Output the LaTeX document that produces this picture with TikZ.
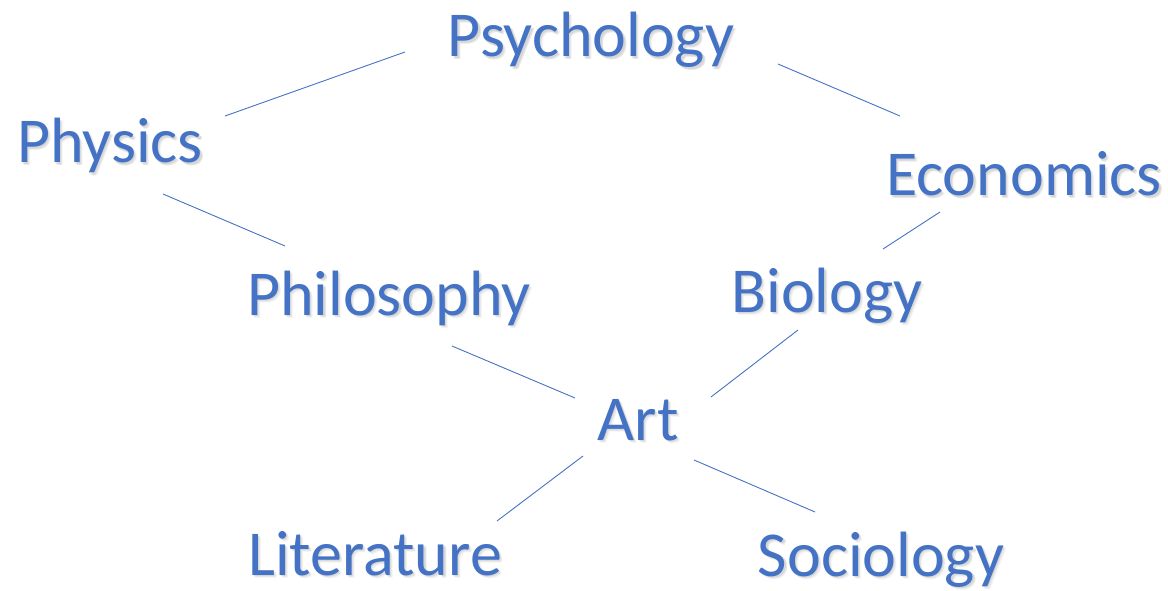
\documentclass[tikz,border=0pt]{standalone}
\usepackage{fontspec}
\setmainfont{Carlito}
\definecolor{topicblue}{HTML}{4472C4}
\begin{document}
\begin{tikzpicture}[x=1pt,y=-1pt,
  topic/.style={anchor=base,inner sep=0pt,text=topicblue,font=\fontsize{64}{70}\selectfont},
  link/.style={draw=topicblue,line width=0.9pt}]
\useasboundingbox (0,0) rectangle (1168,591);
% soft shadows under the labels
\foreach \t/\x/\y in {Psychology/591/57,Physics/110/163,Economics/1024/196,Philosophy/389/315,Biology/827/312,Art/638/440,Literature/375/575,Sociology/881/576}
  \foreach \d/\o in {1.2/0.07,2.2/0.06,3.0/0.04}
    \node[topic,text=black,opacity=\o] at (\x+\d,\y+\d) {\t};
\node[topic] (psy)  at (591,57)  {Psychology};
\node[topic] (phys) at (110,163) {Physics};
\node[topic] (eco)  at (1024,196) {Economics};
\node[topic] (phil) at (389,315) {Philosophy};
\node[topic] (bio)  at (827,312) {Biology};
\node[topic] (art)  at (638,440) {Art};
\node[topic] (lit)  at (375,575) {Literature};
\node[topic] (soc)  at (881,576) {Sociology};
\draw[link] ([shift={(115,-47)}]phys.base) -- ([shift={(-186,-5)}]psy.base);
\draw[link] ([shift={(187,7)}]psy.base) -- ([shift={(-124,-80)}]eco.base);
\draw[link] ([shift={(53,31)}]phys.base) -- ([shift={(-104,-69)}]phil.base);
\draw[link] ([shift={(-84,16)}]eco.base) -- ([shift={(56,-63)}]bio.base);
\draw[link] ([shift={(63,31)}]phil.base) -- ([shift={(-63,-42)}]art.base);
\draw[link] ([shift={(-29,18)}]bio.base) -- ([shift={(73,-43)}]art.base);
\draw[link] ([shift={(-55,16)}]art.base) -- ([shift={(122,-54)}]lit.base);
\draw[link] ([shift={(56,20)}]art.base) -- ([shift={(-66,-64)}]soc.base);
\end{tikzpicture}
\end{document}
